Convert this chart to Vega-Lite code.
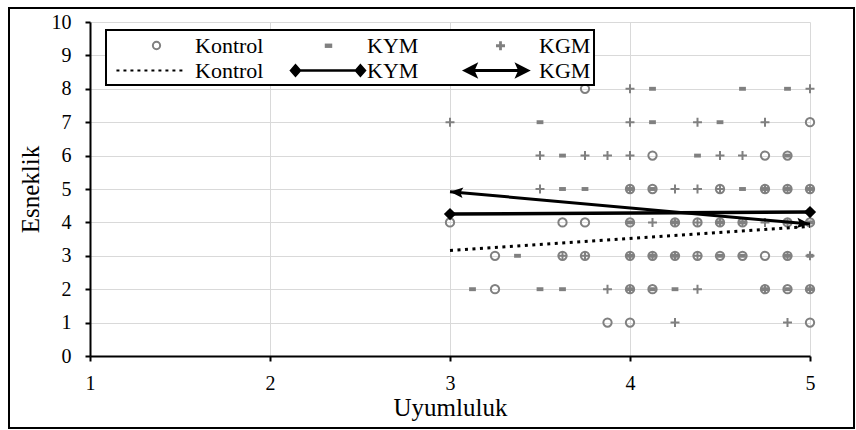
{
  "$schema": "https://vega.github.io/schema/vega-lite/v6.json",
  "width": 720,
  "height": 334,
  "autosize": {"type": "none"},
  "padding": {"left": 90, "top": 22, "right": 46, "bottom": 74},
  "background": "white",
  "config": {
    "font": "Liberation Serif",
    "view": {"stroke": null},
    "legend": {"strokeWidth": 2},
    "axis": {
      "labelFont": "Liberation Serif",
      "titleFont": "Liberation Serif",
      "labelColor": "black",
      "titleColor": "black",
      "titleFontWeight": "normal",
      "domainColor": "black",
      "domainWidth": 2,
      "tickColor": "black",
      "tickWidth": 2,
      "tickSize": 5,
      "gridColor": "#d9d9d9",
      "gridWidth": 1,
      "labelFontSize": 20,
      "titleFontSize": 25,
      "labelOverlap": false
    }
  },
  "datasets": {
    "pts": [
      {"x": 3.75, "y": 8, "g": "Kontrol"}, {"x": 5, "y": 7, "g": "Kontrol"}, {"x": 4.125, "y": 6, "g": "Kontrol"}, {"x": 4.75, "y": 6, "g": "Kontrol"}, {"x": 4.875, "y": 6, "g": "Kontrol"},
      {"x": 4, "y": 5, "g": "Kontrol"}, {"x": 4.125, "y": 5, "g": "Kontrol"}, {"x": 4.5, "y": 5, "g": "Kontrol"}, {"x": 4.75, "y": 5, "g": "Kontrol"}, {"x": 4.875, "y": 5, "g": "Kontrol"}, {"x": 5, "y": 5, "g": "Kontrol"},
      {"x": 3, "y": 4, "g": "Kontrol"}, {"x": 3.625, "y": 4, "g": "Kontrol"}, {"x": 3.75, "y": 4, "g": "Kontrol"}, {"x": 4, "y": 4, "g": "Kontrol"}, {"x": 4.25, "y": 4, "g": "Kontrol"}, {"x": 4.375, "y": 4, "g": "Kontrol"}, {"x": 4.5, "y": 4, "g": "Kontrol"}, {"x": 4.625, "y": 4, "g": "Kontrol"}, {"x": 4.875, "y": 4, "g": "Kontrol"}, {"x": 5, "y": 4, "g": "Kontrol"},
      {"x": 3.25, "y": 3, "g": "Kontrol"}, {"x": 3.625, "y": 3, "g": "Kontrol"}, {"x": 3.75, "y": 3, "g": "Kontrol"}, {"x": 4, "y": 3, "g": "Kontrol"}, {"x": 4.125, "y": 3, "g": "Kontrol"}, {"x": 4.25, "y": 3, "g": "Kontrol"}, {"x": 4.375, "y": 3, "g": "Kontrol"}, {"x": 4.5, "y": 3, "g": "Kontrol"}, {"x": 4.625, "y": 3, "g": "Kontrol"}, {"x": 4.75, "y": 3, "g": "Kontrol"}, {"x": 4.875, "y": 3, "g": "Kontrol"},
      {"x": 3.25, "y": 2, "g": "Kontrol"}, {"x": 4, "y": 2, "g": "Kontrol"}, {"x": 4.125, "y": 2, "g": "Kontrol"}, {"x": 4.75, "y": 2, "g": "Kontrol"}, {"x": 4.875, "y": 2, "g": "Kontrol"}, {"x": 5, "y": 2, "g": "Kontrol"},
      {"x": 3.875, "y": 1, "g": "Kontrol"}, {"x": 4, "y": 1, "g": "Kontrol"}, {"x": 5, "y": 1, "g": "Kontrol"},
      {"x": 4.125, "y": 8, "g": "KYM"}, {"x": 4.625, "y": 8, "g": "KYM"}, {"x": 4.875, "y": 8, "g": "KYM"},
      {"x": 3.5, "y": 7, "g": "KYM"}, {"x": 4.125, "y": 7, "g": "KYM"}, {"x": 4.5, "y": 7, "g": "KYM"},
      {"x": 3.625, "y": 6, "g": "KYM"}, {"x": 4.375, "y": 6, "g": "KYM"}, {"x": 4.875, "y": 6, "g": "KYM"},
      {"x": 3.625, "y": 5, "g": "KYM"}, {"x": 3.75, "y": 5, "g": "KYM"}, {"x": 4, "y": 5, "g": "KYM"}, {"x": 4.125, "y": 5, "g": "KYM"}, {"x": 4.625, "y": 5, "g": "KYM"}, {"x": 4.75, "y": 5, "g": "KYM"}, {"x": 4.875, "y": 5, "g": "KYM"}, {"x": 5, "y": 5, "g": "KYM"},
      {"x": 4, "y": 4, "g": "KYM"}, {"x": 4.25, "y": 4, "g": "KYM"}, {"x": 4.5, "y": 4, "g": "KYM"}, {"x": 4.625, "y": 4, "g": "KYM"}, {"x": 4.875, "y": 4, "g": "KYM"}, {"x": 5, "y": 4, "g": "KYM"},
      {"x": 3.375, "y": 3, "g": "KYM"}, {"x": 4, "y": 3, "g": "KYM"}, {"x": 4.125, "y": 3, "g": "KYM"}, {"x": 4.25, "y": 3, "g": "KYM"}, {"x": 4.5, "y": 3, "g": "KYM"}, {"x": 4.625, "y": 3, "g": "KYM"}, {"x": 4.875, "y": 3, "g": "KYM"}, {"x": 5, "y": 3, "g": "KYM"},
      {"x": 3.125, "y": 2, "g": "KYM"}, {"x": 3.5, "y": 2, "g": "KYM"}, {"x": 3.625, "y": 2, "g": "KYM"}, {"x": 4, "y": 2, "g": "KYM"}, {"x": 4.125, "y": 2, "g": "KYM"}, {"x": 4.25, "y": 2, "g": "KYM"}, {"x": 4.75, "y": 2, "g": "KYM"}, {"x": 4.875, "y": 2, "g": "KYM"}, {"x": 5, "y": 2, "g": "KYM"},
      {"x": 4, "y": 8, "g": "KGM"}, {"x": 5, "y": 8, "g": "KGM"},
      {"x": 3, "y": 7, "g": "KGM"}, {"x": 4, "y": 7, "g": "KGM"}, {"x": 4.375, "y": 7, "g": "KGM"}, {"x": 4.75, "y": 7, "g": "KGM"},
      {"x": 3.5, "y": 6, "g": "KGM"}, {"x": 3.75, "y": 6, "g": "KGM"}, {"x": 3.875, "y": 6, "g": "KGM"}, {"x": 4, "y": 6, "g": "KGM"}, {"x": 4.5, "y": 6, "g": "KGM"}, {"x": 4.625, "y": 6, "g": "KGM"},
      {"x": 3.5, "y": 5, "g": "KGM"}, {"x": 4, "y": 5, "g": "KGM"}, {"x": 4.25, "y": 5, "g": "KGM"}, {"x": 4.375, "y": 5, "g": "KGM"}, {"x": 4.5, "y": 5, "g": "KGM"}, {"x": 4.75, "y": 5, "g": "KGM"}, {"x": 4.875, "y": 5, "g": "KGM"}, {"x": 5, "y": 5, "g": "KGM"},
      {"x": 4.125, "y": 4, "g": "KGM"}, {"x": 4.25, "y": 4, "g": "KGM"}, {"x": 4.375, "y": 4, "g": "KGM"}, {"x": 4.5, "y": 4, "g": "KGM"}, {"x": 4.625, "y": 4, "g": "KGM"}, {"x": 4.75, "y": 4, "g": "KGM"}, {"x": 4.875, "y": 4, "g": "KGM"},
      {"x": 3.625, "y": 3, "g": "KGM"}, {"x": 3.75, "y": 3, "g": "KGM"}, {"x": 4, "y": 3, "g": "KGM"}, {"x": 4.125, "y": 3, "g": "KGM"}, {"x": 4.25, "y": 3, "g": "KGM"}, {"x": 4.375, "y": 3, "g": "KGM"}, {"x": 4.875, "y": 3, "g": "KGM"}, {"x": 5, "y": 3, "g": "KGM"},
      {"x": 3.875, "y": 2, "g": "KGM"}, {"x": 4, "y": 2, "g": "KGM"}, {"x": 4.375, "y": 2, "g": "KGM"}, {"x": 4.75, "y": 2, "g": "KGM"}, {"x": 5, "y": 2, "g": "KGM"},
      {"x": 4.25, "y": 1, "g": "KGM"}, {"x": 4.875, "y": 1, "g": "KGM"}
    ],
    "trend": [
      {"g": "Kontrol", "x": 3, "y": 3.16},
      {"g": "Kontrol", "x": 5, "y": 3.88},
      {"g": "KYM", "x": 3, "y": 4.25},
      {"g": "KYM", "x": 5, "y": 4.31},
      {"g": "KGM", "x": 3, "y": 4.92},
      {"g": "KGM", "x": 5, "y": 3.95}
    ]
  },
  "encoding": {
    "x": {"field": "x", "type": "quantitative", "scale": {"domain": [1, 5], "nice": false, "zero": false},
          "axis": {"title": "Uyumluluk", "values": [1, 2, 3, 4, 5], "tickCount": 20, "format": "d", "labelPadding": 12, "titlePadding": 2, "labelFlush": false, "labelOverlap": false, "grid": true}},
    "y": {"field": "y", "type": "quantitative", "scale": {"domain": [0, 10], "nice": false, "zero": false},
          "axis": {"title": "Esneklik", "values": [0, 1, 2, 3, 4, 5, 6, 7, 8, 9, 10], "tickCount": 20, "format": "d", "labelPadding": 14, "titlePadding": 8, "labelOverlap": false, "labelBound": false, "grid": true}}
  },
  "layer": [
    {
      "data": {"name": "pts"},
      "transform": [{"filter": "false"}],
      "mark": {"type": "point", "opacity": 1},
      "encoding": {
        "color": {
          "field": "y", "type": "quantitative",
          "scale": {"domain": [0, 10], "range": ["transparent", "transparent"]},
          "legend": {
            "orient": "none",
            "legendX": -81,
            "legendY": -14,
            "direction": "horizontal",
            "title": null,
            "gradientLength": 845,
            "gradientThickness": 420,
            "gradientStrokeColor": "black",
            "gradientStrokeWidth": 2,
            "labelOpacity": 0,
            "labelFontSize": 1,
            "padding": 0
          }
        }
      }
    },
    {
      "data": {"name": "pts"},
      "transform": [{"filter": "datum.g === 'Kontrol'"}],
      "mark": {"type": "point", "shape": "M0.13,0A0.13,0.13,0,1,1,-0.13,0A0.13,0.13,0,1,1,0.13,0Z", "filled": false, "strokeWidth": 2, "color": "#808080", "opacity": 1, "size": 4096}
    },
    {
      "data": {"name": "pts"},
      "transform": [{"filter": "datum.g === 'KYM'"}],
      "mark": {"type": "point", "shape": "M-0.075,-0.03H0.075V0.03H-0.075Z", "filled": false, "strokeWidth": 2, "color": "#808080", "opacity": 1, "size": 4096}
    },
    {
      "data": {"name": "pts"},
      "transform": [{"filter": "datum.g === 'KGM'"}],
      "mark": {"type": "point", "shape": "M-0.14,0H0.14M0,-0.14V0.14", "filled": false, "strokeWidth": 2, "color": "#808080", "opacity": 1, "size": 4096}
    },
    {
      "data": {"name": "pts"},
      "transform": [{"filter": "false"}],
      "mark": {"type": "point", "opacity": 1},
      "encoding": {
        "shape": {
          "field": "g", "type": "nominal",
          "scale": {
            "domain": ["Kontrol", "Kontrol.", "KYM", "KYM.", "KGM", "KGM."],
            "range": [
              "M0.33,0A0.33,0.33,0,1,1,-0.33,0A0.33,0.33,0,1,1,0.33,0Z",
              "M-3.64,0h0.27M-3.004,0h0.27M-2.368,0h0.27M-1.732,0h0.27M-1.096,0h0.27M-0.46,0h0.27M0.176,0h0.27M0.812,0h0.27M1.448,0h0.27M2.084,0h0.27",
              "M-0.23,-0.09H0.23V0.09H-0.23Z",
              "M-3,0H2.9M-3.4,0L-3,-0.45L-2.6,0L-3,0.45ZM2.5,0L2.9,-0.45L3.3,0L2.9,0.45Z",
              "M-0.41,0H0.41M0,-0.41V0.41",
              "M-2.9,0H2.15M-3.2,0L-2.3,-0.45L-2.5,0L-2.3,0.45ZM2.45,0L1.55,-0.45L1.75,0L1.55,0.45Z"
            ]
          },
          "legend": {
            "orient": "none",
            "legendX": 16,
            "legendY": 8,
            "columns": 3,
            "title": " ",
            "titleOrient": "left",
            "titleFontSize": 1,
            "titlePadding": 14,
            "symbolSize": 484,
            "symbolOffset": 21,
            "labelOffset": 26,
            "labelExpr": "replace(datum.label, '.', '')",
            "labelFont": "Liberation Serif",
            "labelFontSize": 22,
            "labelColor": "black",
            "gridAlign": "all",
            "columnPadding": 21,
            "rowPadding": 1,
            "padding": 3,
            "strokeColor": "black",
            "fillColor": "white"
          }
        },
        "stroke": {
          "field": "g", "type": "nominal",
          "scale": {
            "domain": ["Kontrol", "Kontrol.", "KYM", "KYM.", "KGM", "KGM."],
            "range": ["#808080", "black", "#808080", "black", "#808080", "black"]
          }
        },
        "fill": {
          "field": "g", "type": "nominal",
          "scale": {
            "domain": ["Kontrol", "Kontrol.", "KYM", "KYM.", "KGM", "KGM."],
            "range": ["transparent", "transparent", "#808080", "black", "transparent", "black"]
          }
        },
        "strokeWidth": {
          "field": "g", "type": "nominal",
          "scale": {
            "domain": ["Kontrol", "Kontrol.", "KYM", "KYM.", "KGM", "KGM."],
            "range": [2, 3, 2, 3.5, 2, 2.5]
          }
        }
      }
    },
    {
      "data": {"name": "trend"},
      "transform": [{"filter": "datum.g === 'Kontrol'"}],
      "mark": {"type": "line", "color": "black", "strokeWidth": 3, "strokeDash": [3, 4.5]}
    },
    {
      "data": {"name": "trend"},
      "transform": [{"filter": "datum.g === 'KYM'"}],
      "mark": {"type": "line", "color": "black", "strokeWidth": 3.5}
    },
    {
      "data": {"name": "trend"},
      "transform": [{"filter": "datum.g === 'KYM'"}],
      "mark": {"type": "point", "shape": "diamond", "filled": true, "color": "black", "opacity": 1, "size": 150}
    },
    {
      "data": {"name": "trend"},
      "transform": [{"filter": "datum.g === 'KGM'"}],
      "mark": {"type": "line", "color": "black", "strokeWidth": 3}
    },
    {
      "data": {"name": "trend"},
      "transform": [{"filter": "datum.g === 'KGM' && datum.x === 5"}],
      "mark": {"type": "point", "shape": "M0,0L-1,-0.4L-0.8,0L-1,0.4Z", "filled": true, "color": "black", "opacity": 1, "size": 676, "angle": 5}
    },
    {
      "data": {"name": "trend"},
      "transform": [{"filter": "datum.g === 'KGM' && datum.x === 3"}],
      "mark": {"type": "point", "shape": "M0,0L-1,-0.4L-0.8,0L-1,0.4Z", "filled": true, "color": "black", "opacity": 1, "size": 676, "angle": 185}
    }
  ]
}
